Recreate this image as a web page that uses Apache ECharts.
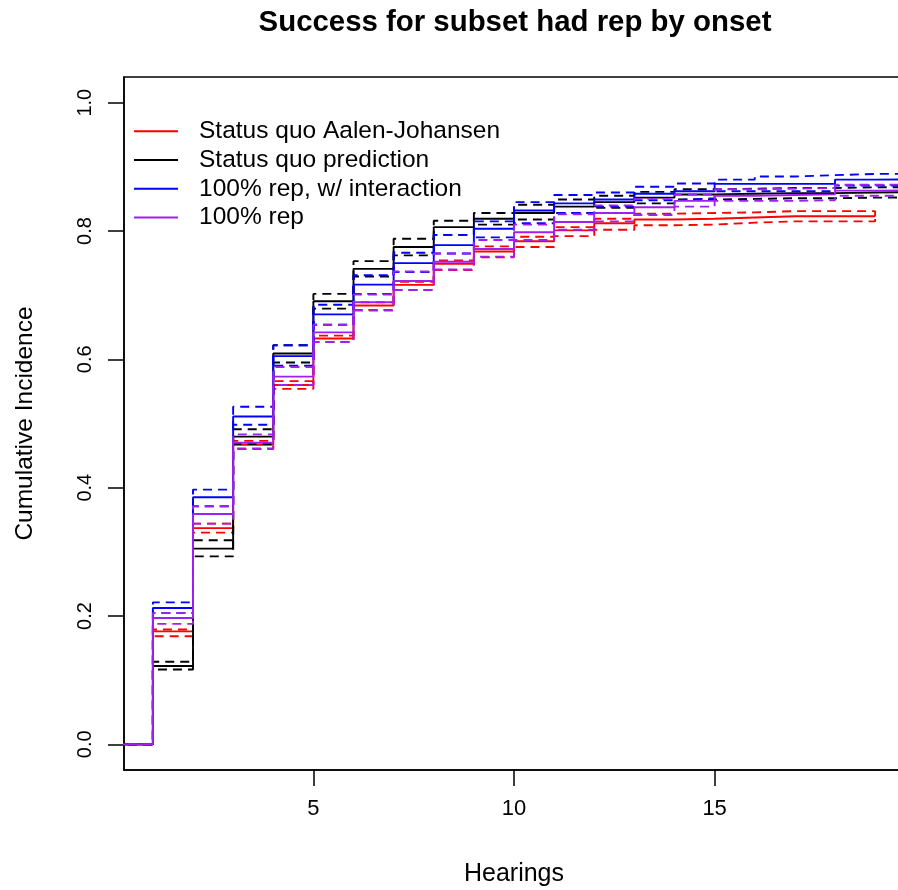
<!DOCTYPE html>
<html>
<head>
<meta charset="utf-8">
<script src="https://cdn.jsdelivr.net/npm/echarts@6/dist/echarts.min.js"></script>
<style>
html,body{margin:0;padding:0;background:#fff;}
#chart{width:898px;height:890px;}
</style>
</head>
<body>
<div id="chart"></div>
<script>
// ---- data ----
const hearings = [1,2,3,4,5,6,7,8,9,10,11,12,13,14,15,16,17,18,19];
const xTicks = [5, 10, 15];
const yTicks = [0, 0.2, 0.4, 0.6, 0.8, 1.0];

// Status quo Aalen-Johansen (red)
const ajEst = [0.176,0.337,0.467,0.560,0.6325,0.684,0.716,0.749,0.768,0.784,0.801,0.812,0.818,0.819,0.821,0.823,0.823,0.823,0.823];
const ajHi  = [0.179,0.344,0.473,0.566,0.637,0.689,0.721,0.754,0.776,0.791,0.806,0.819,0.827,0.828,0.829,0.831,0.831,0.831,0.823];
const ajLo  = [0.1685,0.330,0.460,0.554,0.627,0.677,0.708,0.739,0.759,0.775,0.792,0.802,0.809,0.810,0.813,0.815,0.815,0.815,0.823];

// Status quo prediction (black)
const sqEst = [0.122,0.305,0.4795,0.609,0.6905,0.741,0.775,0.806,0.819,0.828,0.838,0.845,0.852,0.857,0.858,0.859,0.859,0.860,0.861];
const sqHi  = [0.1286,0.318,0.491,0.622,0.702,0.753,0.788,0.816,0.828,0.841,0.849,0.855,0.861,0.865,0.866,0.867,0.867,0.868,0.869];
const sqLo  = [0.1166,0.293,0.468,0.595,0.679,0.729,0.762,0.794,0.810,0.818,0.828,0.836,0.843,0.849,0.850,0.851,0.851,0.852,0.853];

// 100% rep, w/ interaction (blue)
const intEst = [0.2125,0.385,0.511,0.605,0.670,0.7165,0.750,0.778,0.8035,0.832,0.843,0.849,0.858,0.862,0.8735,0.8735,0.8735,0.880,0.881];
const intHi  = [0.2213,0.397,0.526,0.622,0.685,0.731,0.766,0.794,0.815,0.845,0.856,0.860,0.869,0.874,0.880,0.885,0.887,0.889,0.889];
const intLo  = [0.2048,0.371,0.498,0.590,0.654,0.702,0.736,0.765,0.790,0.812,0.828,0.838,0.848,0.851,0.862,0.862,0.862,0.871,0.871];

// 100% rep (purple)
const repEst = [0.197,0.359,0.470,0.573,0.642,0.689,0.722,0.752,0.772,0.798,0.814,0.828,0.837,0.847,0.855,0.856,0.857,0.863,0.864];
const repHi  = [0.2048,0.371,0.483,0.588,0.654,0.701,0.737,0.765,0.786,0.810,0.826,0.840,0.850,0.857,0.865,0.866,0.867,0.872,0.873];
const repLo  = [0.1877,0.344,0.461,0.560,0.627,0.676,0.708,0.740,0.760,0.786,0.802,0.815,0.825,0.838,0.847,0.847,0.848,0.855,0.855];

const names = ['Status quo Aalen-Johansen','Status quo prediction','100% rep, w/ interaction','100% rep'];
const colors = ['#FF0000','#000000','#0000FF','#A020F0'];

// ---- build step series ----
function stepData(vals, extendTo) {
  const pts = [[0, 0]];
  vals.forEach((v, i) => pts.push([hearings[i], v]));
  if (extendTo != null) pts.push([extendTo, vals[vals.length - 1]]);
  return pts;
}
const groups = [
  {est: ajEst, hi: ajHi, lo: ajLo, ext: null},
  {est: sqEst, hi: sqHi, lo: sqLo, ext: 21},
  {est: intEst, hi: intHi, lo: intLo, ext: 21},
  {est: repEst, hi: repHi, lo: repLo, ext: 21}
];
const LW = 1.9;
const series = [];
groups.forEach((g, k) => {
  const base = {type: 'line', step: 'end', symbol: 'none', color: colors[k], silent: true, clip: true, animation: false};
  series.push(Object.assign({}, base, {name: names[k], data: stepData(g.est, g.ext), lineStyle: {width: LW, color: colors[k]}}));
  series.push(Object.assign({}, base, {name: names[k] + ' upper', data: stepData(g.hi, g.ext), lineStyle: {width: LW, color: colors[k], type: [9, 6]}}));
  series.push(Object.assign({}, base, {name: names[k] + ' lower', data: stepData(g.lo, g.ext), lineStyle: {width: LW, color: colors[k], type: [9, 6]}}));
});

const FONT = 'Liberation Sans, Arial, sans-serif';
const chart = echarts.init(document.getElementById('chart'), null, {renderer: 'canvas'});
chart.setOption({
  animation: false,
  backgroundColor: '#ffffff',
  title: {
    text: 'Success for subset had rep by onset',
    left: 510, top: 3, textAlign: 'center',
    textStyle: {fontFamily: FONT, fontWeight: 'bold', fontSize: 29.4, color: '#000'}
  },
  legend: {
    data: names,
    orient: 'vertical',
    left: 129, top: 112,
    icon: 'rect', itemWidth: 44, itemHeight: 2, itemGap: 0,
    selectedMode: false,
    textStyle: {fontFamily: FONT, fontSize: 24.5, color: '#000', lineHeight: 28.7, padding: [0, 0, 0, 16]}
  },
  grid: {left: 124, top: 77, right: -6, bottom: 120, show: true, borderColor: '#000', borderWidth: 1.5,
    containLabel: false, outerBoundsMode: 'none'},
  xAxis: {
    type: 'value', min: 0.28, max: 19.72,
    name: 'Hearings', nameLocation: 'middle', nameGap: 92,
    nameTextStyle: {fontFamily: FONT, fontSize: 25, color: '#000'},
    axisLine: {show: true, onZero: false, lineStyle: {color: '#000', width: 1.5}},
    axisTick: {show: true, inside: false, length: 16, customValues: xTicks, lineStyle: {color: '#000', width: 1.5}},
    axisLabel: {customValues: xTicks, margin: 28, fontFamily: FONT, fontSize: 22, color: '#000'},
    splitLine: {show: false}
  },
  yAxis: {
    type: 'value', min: -0.04, max: 1.04,
    name: 'Cumulative Incidence', nameLocation: 'middle', nameGap: 86, nameRotate: 90,
    nameTextStyle: {fontFamily: FONT, fontSize: 24.5, color: '#000'},
    axisLine: {show: true, onZero: false, lineStyle: {color: '#000', width: 1.5}},
    axisTick: {show: true, inside: false, length: 16, customValues: yTicks, lineStyle: {color: '#000', width: 1.5}},
    axisLabel: {customValues: yTicks, rotate: 90, margin: 29, fontFamily: FONT, fontSize: 20, color: '#000',
      formatter: v => v.toFixed(1)},
    splitLine: {show: false}
  },
  series: series
});
</script>
</body>
</html>
